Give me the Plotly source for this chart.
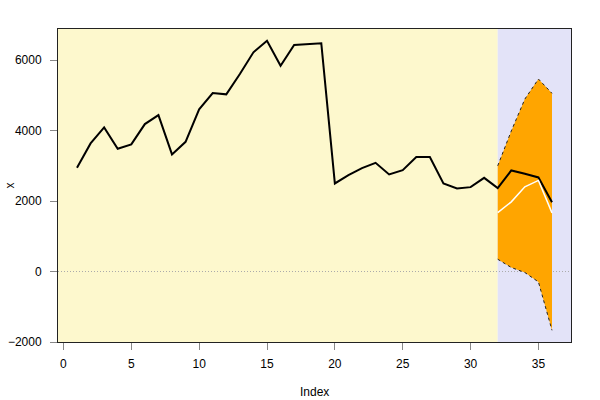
import plotly.graph_objects as go

index = list(range(1, 37))
x_values = [2943, 3636, 4091, 3483, 3608, 4185, 4440, 3324, 3682, 4602,
            5065, 5028, 5605, 6222, 6551, 5841, 6429, 6457, 6477, 2500,
            2736, 2935, 3085, 2756, 2878, 3247, 3247, 2500, 2358, 2395,
            2659, 2366, 2869, 2773, 2670, 1969]
fc_index = [32, 33, 34, 35, 36]
fc_mean = [1670, 1977, 2403, 2585, 1665]
fc_upper = [3000, 3990, 4895, 5463, 5057]
fc_lower = [349, 114, -28, -295, -1668]
x_ticks = [0, 5, 10, 15, 20, 25, 30, 35]
y_ticks = [-2000, 0, 2000, 4000, 6000]
y_tick_labels = ["\u22122000", "0", "2000", "4000", "6000"]
split_at = 32

fig = go.Figure()

fig.add_trace(go.Scatter(
    x=fc_index + fc_index[::-1],
    y=fc_upper + fc_lower[::-1],
    fill="toself", fillcolor="orange", mode="none", hoverinfo="skip",
    showlegend=False))
fig.add_trace(go.Scatter(x=fc_index, y=fc_upper, mode="lines",
                         line=dict(color="#222222", width=1, dash="3px,3px"),
                         showlegend=False))
fig.add_trace(go.Scatter(x=fc_index, y=fc_lower, mode="lines",
                         line=dict(color="#222222", width=1, dash="3px,3px"),
                         showlegend=False))
fig.add_trace(go.Scatter(x=index, y=x_values, mode="lines",
                         line=dict(color="black", width=2),
                         showlegend=False))
fig.add_trace(go.Scatter(x=fc_index, y=fc_mean, mode="lines",
                         line=dict(color="white", width=1.5),
                         showlegend=False))

fig.add_shape(type="rect", xref="x", yref="paper", x0=-0.4, x1=split_at,
              y0=0, y1=1, fillcolor="#FDF8CD", line_width=0, layer="below")
fig.add_shape(type="rect", xref="x", yref="paper", x0=split_at, x1=37.4,
              y0=0, y1=1, fillcolor="#E3E3F8", line_width=0, layer="below")
fig.add_shape(type="line", xref="paper", yref="y", x0=0, x1=1, y0=0, y1=0,
              line=dict(color="#AAAAAA", width=1, dash="1px,2px"), layer="below")

font = dict(family="Liberation Sans, Arial, sans-serif", size=12, color="black")
fig.update_layout(
    width=600, height=400,
    margin=dict(l=58, r=29, t=29, b=58, autoexpand=False),
    paper_bgcolor="white", plot_bgcolor="white",
    font=font,
    xaxis=dict(range=[-0.4, 37.4], tickvals=x_ticks, ticks="outside",
               ticklen=7, tickcolor="#888888", showgrid=False, zeroline=False,
               showline=True, linecolor="#222222", linewidth=1, mirror=True,
               automargin=False, ticklabelstandoff=4),
    yaxis=dict(range=[-2000, 6883], tickvals=y_ticks, ticktext=y_tick_labels,
               ticks="outside", ticklen=7, tickcolor="#888888", showgrid=False,
               zeroline=False, showline=True, linecolor="#222222", linewidth=1,
               mirror=True, automargin=False, ticklabelstandoff=6),
    annotations=[
        dict(text="Index", xref="paper", yref="paper", x=0.5, y=0,
             yshift=-50, showarrow=False, xanchor="center", yanchor="middle"),
        dict(text="x", xref="paper", yref="paper", x=0, y=0.5, xshift=-49,
             textangle=-90, showarrow=False, xanchor="center", yanchor="middle"),
    ],
)

fig.write_html("out.html", config={"displayModeBar": False},
               post_script="document.body.style.margin='0';")
